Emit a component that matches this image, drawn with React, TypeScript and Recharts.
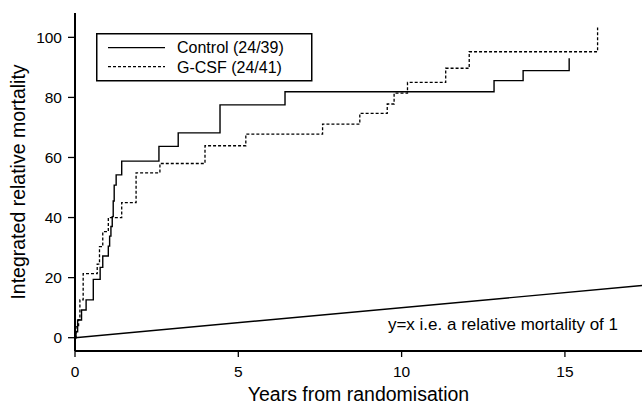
import { LineChart, Line, XAxis, YAxis } from 'recharts';

// step positions (years, integrated relative mortality)
const controlYears = [0, 0.03, 0.08, 0.2, 0.34, 0.56, 0.77, 0.85, 1.02, 1.06, 1.1, 1.14, 1.17, 1.2, 1.26, 1.43, 2.57, 3.16, 4.44, 6.43, 12.83, 13.72, 15.13];
const controlValues = [0, 2.0, 5.9, 9.2, 12.6, 19.4, 23.4, 27.2, 30.5, 33.8, 37.0, 40.3, 45.5, 50.8, 54.2, 58.8, 63.7, 68.2, 77.5, 81.9, 85.6, 88.9, 93.0];

const gcsfYears = [0, 0.03, 0.11, 0.15, 0.25, 0.68, 0.75, 0.85, 1.02, 1.43, 1.87, 2.6, 3.98, 5.23, 7.58, 8.72, 9.56, 9.77, 10.18, 11.35, 12.07, 16.0];
const gcsfValues = [0, 3.7, 6.0, 12.6, 21.3, 24.5, 30.3, 35.3, 40.0, 45.0, 54.9, 58.0, 63.9, 67.8, 71.1, 74.7, 77.8, 81.4, 85.0, 89.7, 95.2, 103.3];

// y = x reference line
const identityYears = [0, 17.36];

const xTicks = [0, 5, 10, 15];
const yTicks = [0, 20, 40, 60, 80, 100];
const seriesNames = ['Control (24/39)', 'G-CSF (24/41)'];

const X_DOMAIN: [number, number] = [0, 17.36];
const Y_DOMAIN: [number, number] = [-4.43, 108.1];
const FONT = '"Liberation Sans", Arial, Helvetica, sans-serif';

const toPoints = (xs: number[], ys: number[]) => xs.map((x, i) => ({ x, y: ys[i] }));

const controlData = toPoints(controlYears, controlValues);
const gcsfData = toPoints(gcsfYears, gcsfValues);
const identityData = toPoints(identityYears, identityYears);

function LegendBox() {
  return (
    <svg width={642} height={406} style={{ position: 'absolute', left: 0, top: 0, pointerEvents: 'none' }}>
      <rect x={96.75} y={33.75} width={215} height={47} fill="#fff" stroke="#000" strokeWidth={1.5} />
      <line x1={108} x2={165} y1={47.7} y2={47.7} stroke="#000" strokeWidth={1.3} />
      <line x1={108} x2={165} y1={66.7} y2={66.7} stroke="#000" strokeWidth={1.3} strokeDasharray="3 2" />
      <text x={177} y={53.3} fontSize={16} fontFamily={FONT} fill="#000">{seriesNames[0]}</text>
      <text x={177} y={72.7} fontSize={16} fontFamily={FONT} fill="#000">{seriesNames[1]}</text>
      <text x={618} y={330} fontSize={17} fontFamily={FONT} fill="#000" textAnchor="end">
        y=x i.e. a relative mortality of 1
      </text>
    </svg>
  );
}

export default function App() {
  return (
    <div style={{ position: 'absolute', left: 0, top: 0, width: 642, height: 406, background: '#fff' }}>
      <LineChart
        width={642}
        height={406}
        margin={{ top: 13, right: 0, bottom: 0, left: 0 }}
        style={{ fontFamily: FONT }}
      >
        <XAxis
          dataKey="x"
          type="number"
          domain={X_DOMAIN}
          ticks={xTicks}
          allowDataOverflow
          height={55}
          tickSize={6}
          tickMargin={9}
          axisLine={{ stroke: '#000', strokeWidth: 2 }}
          tickLine={{ stroke: '#000', strokeWidth: 1.3 }}
          tick={{ fill: '#000', fontSize: 15.5 }}
          label={{ value: 'Years from randomisation', position: 'insideBottom', offset: 5, fill: '#000', fontSize: 19.5 }}
        />
        <XAxis
          xAxisId="top"
          orientation="top"
          dataKey="x"
          type="number"
          domain={X_DOMAIN}
          height={0}
          tick={false}
          tickLine={false}
          axisLine={{ stroke: '#000', strokeWidth: 1.5 }}
        />
        <YAxis
          type="number"
          domain={Y_DOMAIN}
          ticks={yTicks}
          allowDataOverflow
          width={75}
          tickSize={7}
          tickMargin={6}
          axisLine={{ stroke: '#000', strokeWidth: 2 }}
          tickLine={{ stroke: '#000', strokeWidth: 1.3 }}
          tick={{ fill: '#000', fontSize: 15.5 }}
          label={{
            value: 'Integrated relative mortality',
            angle: -90,
            position: 'insideLeft',
            offset: 18,
            fill: '#000',
            fontSize: 19.5,
            style: { textAnchor: 'middle' },
          }}
        />
        <Line
          data={identityData}
          dataKey="y"
          type="linear"
          stroke="#000"
          strokeWidth={1.4}
          dot={false}
          activeDot={false}
          isAnimationActive={false}
        />
        <Line
          data={gcsfData}
          dataKey="y"
          name={seriesNames[1]}
          type="stepAfter"
          stroke="#000"
          strokeWidth={1.3}
          strokeDasharray="3 2"
          dot={false}
          activeDot={false}
          isAnimationActive={false}
        />
        <Line
          data={controlData}
          dataKey="y"
          name={seriesNames[0]}
          type="stepAfter"
          stroke="#000"
          strokeWidth={1.4}
          dot={false}
          activeDot={false}
          isAnimationActive={false}
        />
      </LineChart>
      <LegendBox />
    </div>
  );
}
